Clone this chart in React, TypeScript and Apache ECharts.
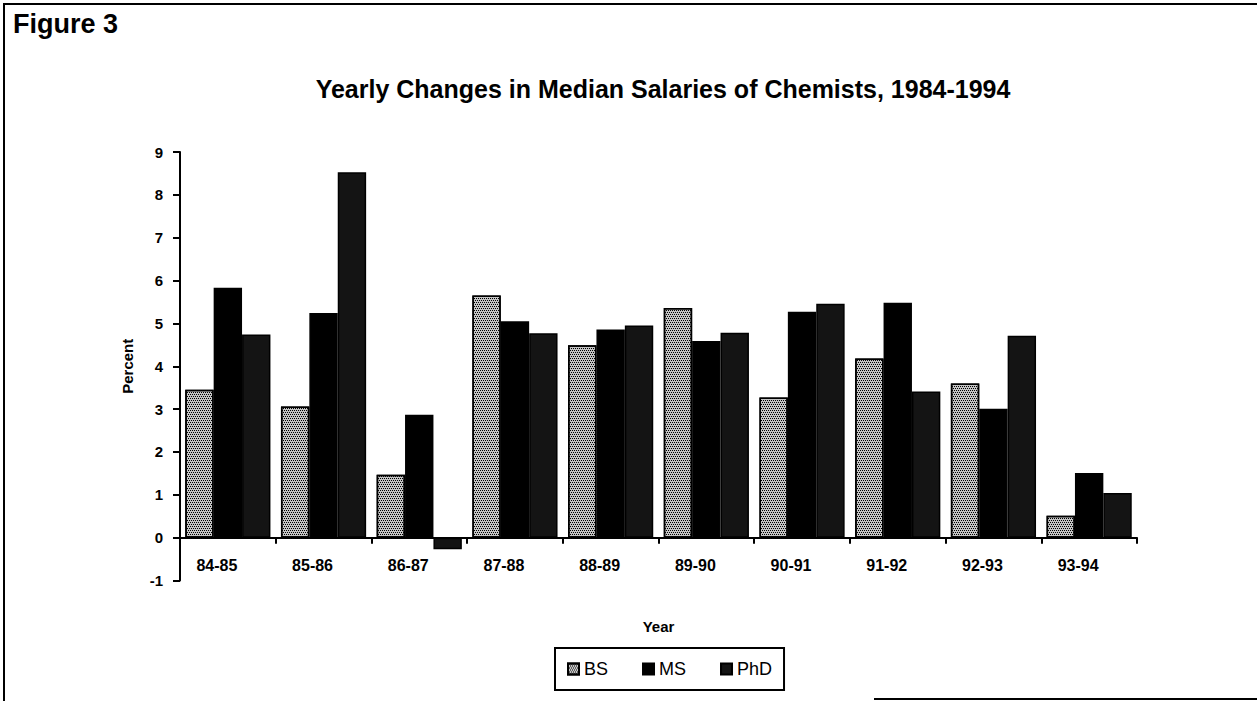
import React, { useEffect, useRef } from 'react';
import * as echarts from 'echarts';

const categories = ['84-85', '85-86', '86-87', '87-88', '88-89', '89-90', '90-91', '91-92', '92-93', '93-94'];
const bsValues = [3.45, 3.06, 1.47, 5.65, 4.49, 5.36, 3.27, 4.18, 3.6, 0.51];
const msValues = [5.83, 5.24, 2.87, 5.05, 4.86, 4.59, 5.27, 5.48, 3.01, 1.51];
const phdValues = [4.74, 8.53, -0.27, 4.77, 4.95, 4.78, 5.46, 3.41, 4.71, 1.04];
const seriesNames = ['BS', 'MS', 'PhD'];
const yMin = -1;
const yMax = 9;
const yStep = 1;

const FONT = '"Liberation Sans", Arial, sans-serif';

const GRID_TOP = 152;
const GRID_BOTTOM = 120.5;
const GRID_H = 701 - GRID_TOP - GRID_BOTTOM;
// distance from the bottom of the plot (y = yMin) up to the zero line
const ZERO_OFFSET = (GRID_H * (0 - yMin)) / (yMax - yMin);

export default function App() {
  const ref = useRef<HTMLDivElement>(null);
  useEffect(() => {
    const chart = echarts.init(ref.current as HTMLDivElement, null, { renderer: 'svg' });
    const barBorder = { borderColor: '#000', borderWidth: 1.5 };
    chart.setOption({
      animation: false,
      backgroundColor: '#ffffff',
      textStyle: { fontFamily: FONT, color: '#000' },
      graphic: [
        { type: 'line', shape: { x1: 4, y1: 3, x2: 4, y2: 701 }, style: { stroke: '#000', lineWidth: 2 } },
        { type: 'line', shape: { x1: 3, y1: 4, x2: 1257, y2: 4 }, style: { stroke: '#000', lineWidth: 2 } },
        { type: 'line', shape: { x1: 874, y1: 699, x2: 1257, y2: 699 }, style: { stroke: '#000', lineWidth: 2 } },
        {
          type: 'text', x: 13, y: 24,
          style: { text: 'Figure 3', font: `bold 27px ${FONT}`, fill: '#000', align: 'left', verticalAlign: 'middle' },
        },
        {
          type: 'text', x: 663, y: 89,
          style: {
            text: 'Yearly Changes in Median Salaries of Chemists, 1984-1994',
            font: `bold 25px ${FONT}`, fill: '#000', align: 'center', verticalAlign: 'middle',
          },
        },
      ],
      legend: {
        data: seriesNames,
        left: 555,
        top: 648,
        orient: 'horizontal',
        icon: 'rect',
        itemWidth: 11,
        itemHeight: 11,
        itemGap: 34,
        itemTextGap: 2,
        padding: [12, 12, 12, 12],
        borderColor: '#000',
        borderWidth: 2,
        borderRadius: 0,
        textStyle: { fontFamily: FONT, fontSize: 18, color: '#000', lineHeight: 18 },
      },
      grid: { left: 180, right: 120, top: GRID_TOP, bottom: GRID_BOTTOM, containLabel: false },
      xAxis: {
        type: 'category',
        data: categories,
        name: 'Year',
        nameLocation: 'middle',
        nameGap: 81,
        nameTextStyle: { fontFamily: FONT, fontSize: 15, fontWeight: 'bold', color: '#000' },
        offset: -ZERO_OFFSET,
        axisLine: { onZero: false, lineStyle: { color: '#000', width: 2 } },
        axisTick: { show: true, length: 6, alignWithLabel: false, interval: 0, lineStyle: { color: '#000', width: 2 } },
        axisLabel: {
          interval: 0, fontFamily: FONT, fontSize: 16, fontWeight: 'bold', color: '#000',
          margin: 20, padding: [0, 22, 0, 0],
        },
        splitLine: { show: false },
      },
      yAxis: {
        type: 'value',
        min: yMin,
        max: yMax,
        interval: yStep,
        name: 'Percent',
        nameLocation: 'middle',
        nameRotate: 90,
        nameGap: 45,
        nameTextStyle: { fontFamily: FONT, fontSize: 15, fontWeight: 'bold', color: '#000' },
        axisLine: { show: true, lineStyle: { color: '#000', width: 2 } },
        axisTick: { show: true, length: 7, lineStyle: { color: '#000', width: 2 } },
        axisLabel: { fontFamily: FONT, fontSize: 15, fontWeight: 'bold', color: '#000', margin: 17 },
        splitLine: { show: false },
      },
      series: [
        {
          name: 'BS', type: 'bar', data: bsValues, barGap: '0%', barCategoryGap: '11%',
          itemStyle: {
            ...barBorder,
            color: '#c4c4c4',
            decal: {
              symbol: 'rect', symbolSize: 1, color: '#000',
              dashArrayX: [[1, 1], [0, 1, 1, 0]], dashArrayY: [1, 1], rotation: 0,
            },
          },
        },
        { name: 'MS', type: 'bar', data: msValues, barGap: '0%', barCategoryGap: '11%', itemStyle: { ...barBorder, color: '#000' } },
        { name: 'PhD', type: 'bar', data: phdValues, barGap: '0%', barCategoryGap: '11%', itemStyle: { ...barBorder, color: '#141414' } },
      ],
    });
    return () => chart.dispose();
  }, []);
  return (
    <div
      ref={ref}
      style={{ position: 'fixed', left: 0, top: 0, width: 1257, height: 701, background: '#fff' }}
    />
  );
}
